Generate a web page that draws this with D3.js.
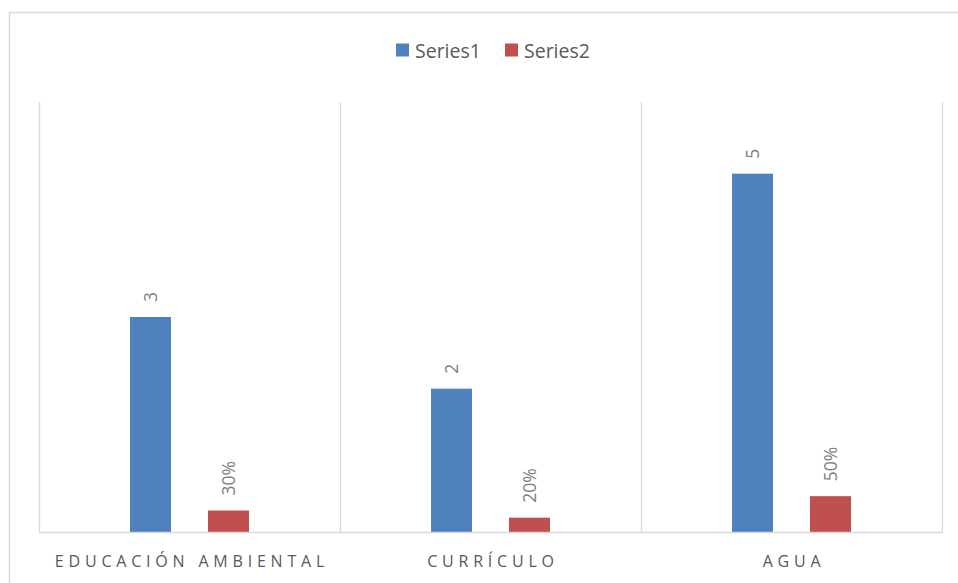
<!DOCTYPE html>
<html><head><meta charset="utf-8">
<script src="https://cdn.jsdelivr.net/npm/d3@7"></script>
<style>body{margin:0;background:#fff}svg{display:block}</style>
</head><body><svg id="c" width="958" height="583"></svg>
<script>
const categories = ["EDUCACIÓN AMBIENTAL", "CURRÍCULO", "AGUA"];
const series1 = [3, 2, 5];
const series2 = [0.3, 0.2, 0.5];
const series2Labels = ["30%", "20%", "50%"];
const seriesNames = ["Series1", "Series2"];
const colors = ["#4f81bd", "#c0504d"];

(function () {
const svg = d3.select("#c");
const font = "'Open Sans', 'Noto Sans', sans-serif";
svg.append("rect").attr("x", 9.5).attr("y", 12.5).attr("width", 970).attr("height", 600)
  .attr("fill", "#fff").attr("stroke", "#d9d9d9").attr("stroke-width", 1.5);

const pLeft = 39, pRight = 942, pTop = 102, pBottom = 532;
const x = d3.scaleBand().domain(categories).range([pLeft, pRight]).padding(0);
const y = d3.scaleLinear().domain([0, 6]).range([pBottom, pTop]);

const bounds = categories.map(c => x(c)).concat([pRight]);
svg.append("g").selectAll("line").data(bounds).join("line")
  .attr("x1", d => Math.round(d) + 0.5).attr("x2", d => Math.round(d) + 0.5)
  .attr("y1", pTop).attr("y2", pBottom)
  .attr("stroke", "#d9d9d9").attr("stroke-width", 1.3);

const bw = x.bandwidth();
const barW = bw * 41 / 301;
const offs = [-39 * bw / 301, 39 * bw / 301];
const data = [series1, series2];
const labels = [series1.map(String), series2Labels];

data.forEach((vals, s) => {
  const g = svg.append("g");
  g.selectAll("rect").data(vals).join("rect")
    .attr("x", (d, i) => x(categories[i]) + bw / 2 + offs[s] - barW / 2)
    .attr("width", barW)
    .attr("y", d => y(d))
    .attr("height", d => y(0) - y(d))
    .attr("fill", colors[s]);
  g.selectAll("text").data(vals).join("text")
    .attr("transform", (d, i) => `translate(${x(categories[i]) + bw / 2 + offs[s] + 6.5},${y(d) - 15}) rotate(-90)`)
    .attr("text-anchor", "start")
    .attr("font-family", font).attr("font-size", 17.5).attr("fill", "#808080")
    .text((d, i) => labels[s][i]);
});

svg.append("line").attr("x1", pLeft).attr("x2", pRight + 1).attr("y1", pBottom + 0.5).attr("y2", pBottom + 0.5)
  .attr("stroke", "#d9d9d9").attr("stroke-width", 1.5);

svg.append("g").selectAll("text").data(categories).join("text")
  .attr("x", d => x(d) + bw / 2 + 2.5).attr("y", 567)
  .attr("text-anchor", "middle")
  .attr("font-family", font).attr("font-size", 16).attr("letter-spacing", 4.8)
  .attr("fill", "#595959").text(d => d);

const leg = svg.append("g");
const legX = [396, 505];
seriesNames.forEach((n, i) => {
  leg.append("rect").attr("x", legX[i]).attr("y", 43.5).attr("width", 13).attr("height", 13).attr("fill", colors[i]);
  leg.append("text").attr("x", legX[i] + 19).attr("y", 58).attr("font-family", font).attr("font-size", 19.5)
    .attr("fill", "#595959").text(n);
});
})();
</script></body></html>
